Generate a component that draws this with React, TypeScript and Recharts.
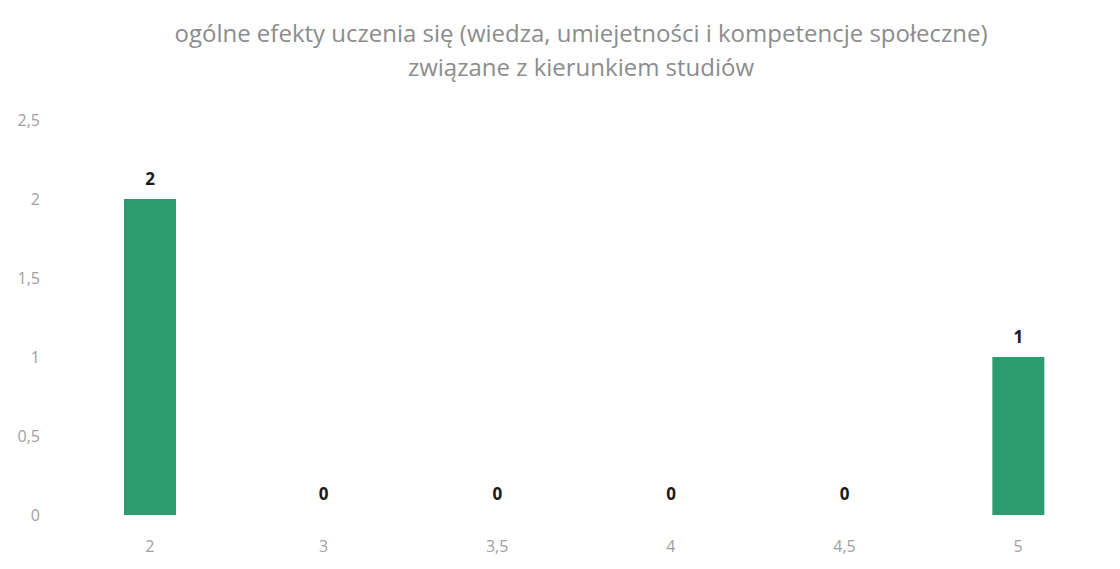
import { Bar, BarChart, Cell, LabelList, XAxis, YAxis } from "recharts";

const categories = ["2", "3", "3,5", "4", "4,5", "5"];
const counts = [2, 0, 0, 0, 0, 1];
const yTicks = [0, 0.5, 1, 1.5, 2, 2.5];
const titleLines = [
  "ogólne efekty uczenia się (wiedza, umiejetności i kompetencje społeczne)",
  "związane z kierunkiem studiów",
];

const chartData = categories.map((grade, i) => ({ grade, count: counts[i] }));

const fmt = (v: number) => String(v).replace(".", ",");

export default function App() {
  return (
    <div style={{ position: "fixed", left: 0, top: 0, width: 1120, height: 569, background: "#fff", fontFamily: "'Open Sans', sans-serif" }}>
      <div style={{ position: "absolute", top: 16, left: 0, width: 1162, textAlign: "center", color: "#8c8c8c", fontSize: 24, lineHeight: "34px" }}>
        {titleLines.map((line) => (
          <div key={line}>{line}</div>
        ))}
      </div>
      <BarChart width={1120} height={569} data={chartData} margin={{ top: 120, right: 15, bottom: 0, left: 0 }}>
        <XAxis
          dataKey="grade"
          axisLine={false}
          tickLine={false}
          height={54}
          tickMargin={20}
          tick={{ fill: "#a0a0a0", fontSize: 16 }}
        />
        <YAxis
          domain={[0, 2.5]}
          ticks={yTicks}
          width={63}
          axisLine={false}
          tickLine={false}
          tickSize={0}
          tickMargin={23}
          tickFormatter={fmt}
          tick={{ fill: "#a0a0a0", fontSize: 16 }}
        />
        <Bar
          dataKey="count"
          fill="#2c9b6e"
          barSize={52}
          minPointSize={(v: number) => (v === 0 ? 1 : 0)}
          isAnimationActive={false}
        >
          {chartData.map((d) => (
            <Cell key={d.grade} fill={d.count === 0 ? "transparent" : "#2c9b6e"} />
          ))}
          <LabelList dataKey="count" position="top" offset={14} style={{ fill: "#1a1a1a", fontSize: 17, fontWeight: 700 }} />
        </Bar>
      </BarChart>
    </div>
  );
}
